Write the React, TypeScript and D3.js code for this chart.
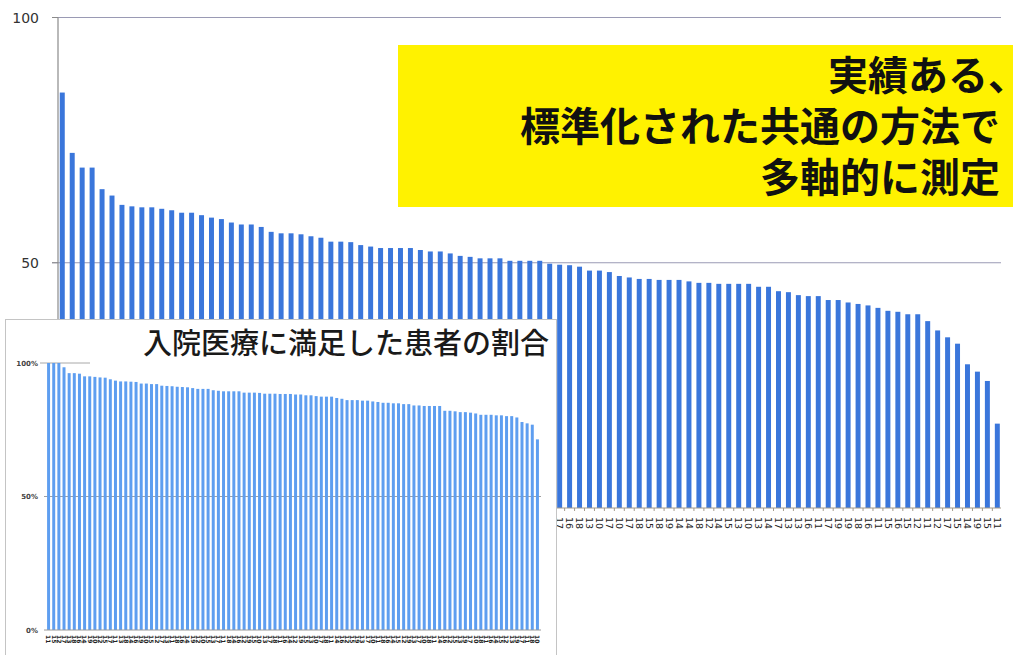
import React from 'react';
import * as d3 from 'd3';

// ---- main chart data (hospital scores, sorted) ----
const mainCodes = [
  '15','12','18','11','17','13','16','14','19','10',
  '12','15','18','17','11','14','13','16','19','15',
  '10','12','17','18','14','11','13','16','15','19',
  '12','17','14','10','18','13','11','15','16','12',
  '19','14','17','13','18','11','16','15','10','12',
  '17','16','18','13','10','17','10','17','18','15',
  '18','19','14','14','18','12','14','15','13','10',
  '13','14','17','13','13','16','11','17','19','19',
  '18','16','11','15','16','15','12','11','12','17',
  '15','14','19','15','11',
];
const mainValues = [
  84.7, 72.4, 69.4, 69.4, 65.0, 63.7, 61.8, 61.5, 61.3, 61.3,
  61.0, 60.7, 60.2, 60.2, 59.7, 59.2, 58.9, 58.2, 57.8, 57.8,
  57.3, 56.3, 56.0, 56.0, 55.8, 55.4, 55.1, 54.3, 54.3, 54.2,
  53.6, 53.3, 53.0, 53.0, 53.0, 53.0, 52.6, 52.3, 52.3, 51.9,
  51.4, 51.2, 50.9, 50.9, 50.9, 50.4, 50.4, 50.4, 50.4, 49.8,
  49.6, 49.5, 49.2, 48.4, 48.4, 48.1, 47.3, 47.0, 46.7, 46.7,
  46.5, 46.5, 46.5, 46.2, 45.9, 45.9, 45.7, 45.7, 45.7, 45.7,
  45.1, 45.1, 44.2, 44.0, 43.4, 43.2, 43.2, 42.4, 42.4, 41.9,
  41.6, 41.3, 40.8, 40.2, 40.0, 39.5, 39.5, 38.1, 36.2, 34.8,
  33.5, 29.3, 27.8, 25.9, 17.2,
];
const mainTicks = [0, 50, 100];

// ---- inset chart data (share of satisfied inpatients, %) ----
const insetCodes = [
  '11','15','12','17','13','18','16','14','19','10','12','15',
  '17','11','13','18','14','16','19','10','15','12','17','13',
  '11','18','16','14','19','12','10','15','13','17','11','18',
  '14','16','12','19','15','10','13','17','18','11','16','14',
  '12','19','15','13','10','17','18','11','14','16','12','15',
  '19','13','17','10','11','18','16','14','15','12','19','13',
  '17','10','18','11','14','16','12','15','13','19','17','10',
  '18','11','16','14','15','12','13','19','17','11','18','10',
];
const insetValues = [
  100, 100, 100, 98.4, 96.2, 96.2, 96.0, 95.0, 95.0, 94.8, 94.6, 94.5,
  93.9, 93.4, 93.1, 93.1, 93.0, 92.9, 92.3, 92.3, 92.1, 92.1, 91.5, 91.4,
  91.3, 91.1, 91.0, 90.9, 90.6, 90.3, 90.3, 90.3, 89.8, 89.6, 89.4, 89.4,
  89.4, 89.4, 88.9, 88.9, 88.9, 88.8, 88.5, 88.5, 88.5, 88.4, 88.4,
  88.4, 88.2, 88.2, 87.9, 87.9, 87.6, 87.4, 87.4, 87.4, 86.9, 86.6, 86.1,
  86.1, 86.1, 85.9, 85.9, 85.6, 85.4, 85.1, 85.1, 84.9, 84.9, 84.6, 84.6,
  84.1, 84.1, 83.9, 83.9, 83.9, 83.9, 82.1, 82.1, 81.9, 81.6, 81.6, 81.4,
  81.1, 80.6, 80.6, 80.6, 80.4, 80.4, 80.1, 80.1, 79.6, 77.9, 77.4, 76.9,
  71.4,
];
const insetTicks = [0, 50, 100];

const boxLines = ['実績ある、', '標準化された共通の方法で', '多軸的に測定'];
const insetTitle = '入院医療に満足した患者の割合';

const LATIN = '"DejaVu Sans", Verdana, sans-serif';
const CJK = '"Noto Sans CJK JP", "Noto Sans CJK SC", sans-serif';

export default function App() {
  const W = 1013;
  const H = 655;

  const x = d3
    .scaleBand<number>()
    .domain(d3.range(mainValues.length))
    .range([57.3, 1002.3])
    .paddingInner(0.5)
    .paddingOuter(0.25);
  const y = d3.scaleLinear().domain([0, 100]).range([508, 17.5]);

  const xi = d3
    .scaleBand<number>()
    .domain(d3.range(insetValues.length))
    .range([46, 540])
    .paddingInner(0.42)
    .paddingOuter(0.21);
  const yi = d3.scaleLinear().domain([0, 100]).range([630, 363]);

  const plotRight = 1001;
  const plotLeft = 58;

  return (
    <svg
      width={W}
      height={H}
      viewBox={`0 0 ${W} ${H}`}
      style={{ position: 'absolute', left: 0, top: 0, background: '#fff' }}
    >
      <rect x={0} y={0} width={W} height={H} fill="#ffffff" />

      {/* ---------- main chart ---------- */}
      <g>
        {mainTicks
          .filter((t) => t > 0)
          .map((t) => (
            <line
              key={'g' + t}
              x1={plotLeft - 6}
              x2={plotRight}
              y1={y(t)}
              y2={y(t)}
              stroke="#9a9ab4"
              strokeWidth={1.2}
            />
          ))}
        {mainValues.map((v, i) => (
          <rect
            key={'b' + i}
            x={x(i)!}
            y={y(v)}
            width={x.bandwidth()}
            height={y(0) - y(v)}
            fill="#3a76db"
          />
        ))}
        {/* y axis */}
        <line x1={plotLeft} x2={plotLeft} y1={y(100)} y2={y(0)} stroke="#8a8a8a" strokeWidth={1.2} />
        {mainTicks.map((t) => (
          <g key={'t' + t}>
            <line x1={plotLeft - 6} x2={plotLeft} y1={y(t)} y2={y(t)} stroke="#8a8a8a" strokeWidth={1} />
            <text
              x={39}
              y={y(t)}
              dy="0.36em"
              textAnchor="end"
              fontFamily={LATIN}
              fontSize={14}
              fill="#333"
            >
              {t}
            </text>
          </g>
        ))}
        {/* x axis */}
        <line x1={plotLeft} x2={plotRight} y1={y(0)} y2={y(0)} stroke="#a59c8c" strokeWidth={1.2} />
        {mainValues.map((_, i) => (
          <line
            key={'xt' + i}
            x1={x(i)! - (x.step() - x.bandwidth()) / 2}
            x2={x(i)! - (x.step() - x.bandwidth()) / 2}
            y1={y(0)}
            y2={y(0) + 3}
            stroke="#a59c8c"
            strokeWidth={1}
          />
        ))}
        {mainCodes.map((c, i) => (
          <text
            key={'xl' + i}
            transform={`translate(${x(i)! + x.bandwidth() / 2},${y(0) + 9}) rotate(90)`}
            dy="0.35em"
            textAnchor="start"
            fontFamily={LATIN}
            fontSize={9.5}
            fill="#222"
          >
            {c}
          </text>
        ))}
      </g>

      {/* ---------- yellow callout ---------- */}
      <g>
        <rect x={398} y={45} width={W - 398} height={162} fill="#fff200" />
        <text
          textAnchor="end"
          fontFamily={CJK}
          fontWeight={700}
          fontSize={40}
          fill="#111"
          style={{ fontFeatureSettings: '"halt"' }}
        >
          {boxLines.map((line, i) => (
            <tspan key={'bl' + i} x={i === 0 ? 1008 : 1000} y={90 + i * 51}>
              {line}
            </tspan>
          ))}
        </text>
      </g>

      {/* ---------- inset chart ---------- */}
      <g>
        <rect x={5.5} y={319.5} width={551} height={360} fill="#ffffff" stroke="#c4c4c4" strokeWidth={1} />
        <text
          x={549}
          y={354}
          textAnchor="end"
          fontFamily={CJK}
          fontWeight={500}
          fontSize={29}
          fill="#1a1a1a"
        >
          {insetTitle}
        </text>
        <line x1={40} x2={90} y1={yi(100)} y2={yi(100)} stroke="#a8a8a8" strokeWidth={1} />
        <line x1={44} x2={541} y1={yi(50)} y2={yi(50)} stroke="#a0a0a0" strokeWidth={1} />
        {insetValues.map((v, i) => (
          <rect
            key={'ib' + i}
            x={xi(i)!}
            y={yi(v)}
            width={xi.bandwidth()}
            height={yi(0) - yi(v)}
            fill="#5e9ef0"
          />
        ))}
        <line x1={44} x2={541} y1={yi(0)} y2={yi(0)} stroke="#9a9a9a" strokeWidth={1} />
        {insetTicks.map((t) => (
          <text
            key={'it' + t}
            x={38}
            y={yi(t)}
            dy="0.36em"
            textAnchor="end"
            fontFamily={LATIN}
            fontWeight={700}
            fontSize={7}
            fill="#444"
          >
            {t + '%'}
          </text>
        ))}
        {insetCodes.map((c, i) => (
          <text
            key={'il' + i}
            transform={`translate(${xi(i)! + xi.bandwidth() / 2},${yi(0) + 5}) rotate(90)`}
            dy="0.35em"
            textAnchor="start"
            fontFamily={LATIN}
            fontWeight={700}
            fontSize={6}
            fill="#222"
          >
            {c}
          </text>
        ))}
      </g>
    </svg>
  );
}
